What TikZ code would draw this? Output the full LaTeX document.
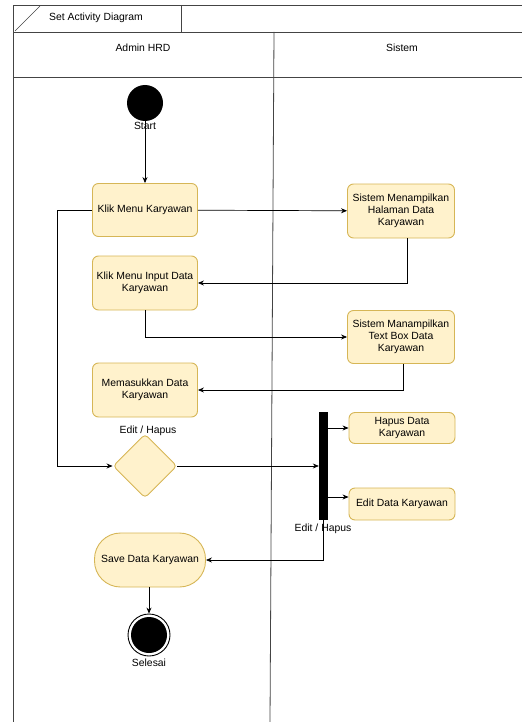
\documentclass[tikz,border=0pt]{standalone}
\usepackage{fontspec}
\setmainfont{Liberation Sans}
\usetikzlibrary{shapes.geometric,arrows.meta}
\definecolor{actfill}{HTML}{FFF2CC}
\definecolor{actdraw}{HTML}{D6B656}
\definecolor{frame}{HTML}{444444}
\begin{document}
\begin{tikzpicture}[x=1pt,y=-1pt,
  act/.style={draw=actdraw,fill=actfill,line width=0.9pt,rounded corners=6pt,minimum width=105pt,align=center,inner sep=2pt,font=\fontsize{10.4}{12.2}\selectfont},
  lbl/.style={font=\fontsize{10.4}{12.2}\selectfont},
  conn/.style={line width=0.7pt,-{Stealth[length=6pt,width=5pt]}},
  plain/.style={line width=0.7pt}]
\useasboundingbox (0,0) rectangle (522,722);
% frame
\draw[frame,line width=0.8pt] (13,722) -- (13,5) -- (522,5);
\draw[frame,line width=0.8pt] (13,32) -- (522,32);
\draw[frame,line width=0.8pt] (13,77) -- (522,77);
\draw[frame,line width=0.8pt] (181,5) -- (181,32);
\draw[frame,line width=0.6pt] (15,31) -- (40,6);
\draw[frame,line width=0.8pt] (274,32) -- (270,722);
\node[lbl] (title) at (96,18) {Set Activity Diagram};
\node[lbl] (lane1) at (143,48) {Admin HRD};
\node[lbl] (lane2) at (402,48) {Sistem};
% start
\node[circle,fill=black,minimum size=36pt,inner sep=0pt] (start) at (145,103) {};
\node[lbl] (startl) at (145,126) {Start};
% activities
\node[act,minimum height=53pt] (k1) at (145,210) {Klik Menu Karyawan};
\node[act,minimum height=54pt] (k2) at (145,283) {Klik Menu Input Data\\Karyawan};
\node[act,minimum height=54pt] (k3) at (145,390) {Memasukkan Data\\Karyawan};
\node[act,minimum height=54pt,minimum width=107pt] (s1) at (401,211) {Sistem Menampilkan\\Halaman Data\\Karyawan};
\node[act,minimum height=53pt,minimum width=107pt] (s2) at (401,337) {Sistem Manampilkan\\Text Box Data\\Karyawan};
\node[act,minimum height=31pt,minimum width=106pt] (h) at (402,428) {Hapus Data\\Karyawan};
\node[act,minimum height=32pt,minimum width=106pt] (e) at (402,504) {Edit Data Karyawan};
\node[diamond,draw=actdraw,fill=actfill,line width=0.9pt,rounded corners=4pt,minimum width=64pt,minimum height=64pt,inner sep=0pt] (d) at (145,466) {};
\node[lbl] (dl) at (148,431) {Edit / Hapus};
\node[fill=black,minimum width=9pt,minimum height=108pt,inner sep=0pt] (fork) at (323.5,466) {};
\node[lbl] (fl) at (323,529) {Edit / Hapus};
\node[draw=actdraw,fill=actfill,line width=0.9pt,rounded corners=26pt,minimum width=111pt,minimum height=54pt,inner sep=2pt,font=\fontsize{10.4}{12.2}\selectfont] (save) at (150,560) {Save Data Karyawan};
\node[circle,draw=black,line width=0.9pt,minimum size=42pt,inner sep=0pt] (end) at (149,635) {};
\node[circle,fill=black,minimum size=36pt,inner sep=0pt] (endin) at (149,635) {};
\node[lbl] (endl) at (149,663) {Selesai};
% connectors
\draw[conn] (start) -- (k1);
\draw[conn] (k1) -- (s1);
\draw[conn] (s1.south -| 407,0) |- (k2.east);
\draw[conn] (k2.south) |- (s2.west);
\draw[conn] (s2.south -| 403,0) |- (k3.east);
\draw[conn] (k1.west) -| (57,466) -- (d.west);
\draw[conn] (d.east) -- (fork.west |- d.east);
\draw[conn] (fork.east |- h.west) -- (h.west);
\draw[conn] (fork.east |- 0,497) -- (e.west |- 0,497);
\draw[conn] (fork.south) |- (save.east);
\draw[conn] (save.south -| 149,0) -- (end.north);
\end{tikzpicture}
\end{document}
